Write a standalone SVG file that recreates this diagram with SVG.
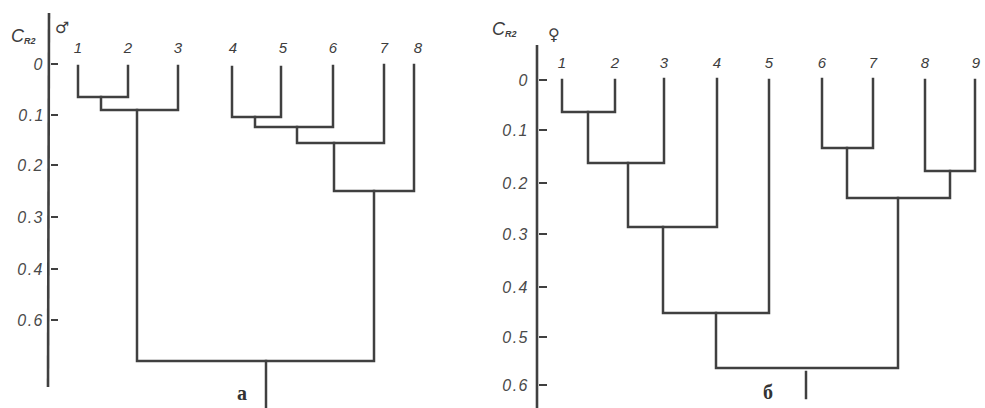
<svg xmlns="http://www.w3.org/2000/svg" width="985" height="408" viewBox="0 0 985 408">
  <style>
    .ln { fill: none; stroke: #404040; stroke-width: 2.5; stroke-linecap: square; stroke-linejoin: miter; }
    .ax { fill: none; stroke: #404040; stroke-width: 2.6; }
    .tk { stroke: #404040; stroke-width: 2; }
    .num { font-family: "Liberation Sans", Arial, sans-serif; font-style: italic; font-size: 15px; fill: #3d3d3d; }
    .cr { font-family: "Liberation Sans", Arial, sans-serif; font-style: italic; font-size: 18px; fill: #3d3d3d; }
    .cr tspan { font-size: 9px; font-weight: bold; }
    .axl { font-family: "Liberation Sans", Arial, sans-serif; font-style: italic; font-size: 16px; letter-spacing: 1.5px; fill: #4a4a4a; text-anchor: end; }
    .leaf { text-anchor: middle; }
    .sym { font-family: "DejaVu Sans", sans-serif; font-size: 16px; font-weight: bold; fill: #3d3d3d; }
    .cap { font-family: "Liberation Serif", "Times New Roman", serif; font-weight: bold; font-size: 20px; fill: #333; text-anchor: middle; }
  </style>
  <rect width="985" height="408" fill="#ffffff"/>

  <!-- Panel a: males -->
  <g id="axis-a">
    <line class="ax" x1="49" y1="13" x2="48" y2="387"/>
    <text class="cr" x="11" y="42">C<tspan dy="2">R2</tspan></text>
    <text class="sym" x="55" y="33">♂</text>
    <line class="tk" x1="51" y1="64" x2="58" y2="64"/>
    <line class="tk" x1="51" y1="115" x2="58" y2="115"/>
    <line class="tk" x1="51" y1="165" x2="58" y2="165"/>
    <line class="tk" x1="51" y1="217" x2="58" y2="217"/>
    <line class="tk" x1="51" y1="269" x2="58" y2="269"/>
    <line class="tk" x1="51" y1="320" x2="58" y2="320"/>
    <text class="axl" x="44" y="70">0</text>
    <text class="axl" x="45" y="121">0.1</text>
    <text class="axl" x="44" y="171">0.2</text>
    <text class="axl" x="44" y="223">0.3</text>
    <text class="axl" x="44" y="275">0.4</text>
    <text class="axl" x="44" y="326">0.6</text>
  </g>
  <g id="leaves-a">
    <text class="num leaf" x="78" y="53">1</text>
    <text class="num leaf" x="128" y="53">2</text>
    <text class="num leaf" x="178" y="53">3</text>
    <text class="num leaf" x="233" y="53">4</text>
    <text class="num leaf" x="283" y="53">5</text>
    <text class="num leaf" x="333" y="53">6</text>
    <text class="num leaf" x="384" y="53">7</text>
    <text class="num leaf" x="418" y="53">8</text>
  </g>
  <g id="connectors-a">
    <path class="ln" d="M78 66 V97 H128 V66"/>
    <path class="ln" d="M101 97 V110 H178 V66"/>
    <path class="ln" d="M232 67 V117 H281 V67"/>
    <path class="ln" d="M255 117 V127 H333 V66"/>
    <path class="ln" d="M297 127 V143 H384 V65"/>
    <path class="ln" d="M334 143 V191 H414 V65"/>
    <path class="ln" d="M137 110 V361 H374 V191"/>
    <path class="ln" d="M266 361 V408"/>
  </g>
  <text id="label-a" class="cap" x="242" y="400">a</text>

  <!-- Panel b: females -->
  <g id="axis-b">
    <line class="ax" x1="537" y1="45" x2="537" y2="408"/>
    <text class="cr" x="492" y="35">C<tspan dy="2">R2</tspan></text>
    <text class="sym" x="548" y="40">♀</text>
    <line class="tk" x1="539" y1="80" x2="547" y2="80"/>
    <line class="tk" x1="539" y1="130" x2="547" y2="130"/>
    <line class="tk" x1="539" y1="183" x2="547" y2="183"/>
    <line class="tk" x1="539" y1="234" x2="547" y2="234"/>
    <line class="tk" x1="539" y1="287" x2="547" y2="287"/>
    <line class="tk" x1="539" y1="337" x2="547" y2="337"/>
    <line class="tk" x1="539" y1="385" x2="547" y2="385"/>
    <text class="axl" x="529" y="86">0</text>
    <text class="axl" x="529" y="136">0.1</text>
    <text class="axl" x="529" y="189">0.2</text>
    <text class="axl" x="529" y="240">0.3</text>
    <text class="axl" x="529" y="293">0.4</text>
    <text class="axl" x="529" y="343">0.5</text>
    <text class="axl" x="529" y="391">0.6</text>
  </g>
  <g id="leaves-b">
    <text class="num leaf" x="562" y="68">1</text>
    <text class="num leaf" x="615" y="68">2</text>
    <text class="num leaf" x="664" y="68">3</text>
    <text class="num leaf" x="717" y="68">4</text>
    <text class="num leaf" x="769" y="68">5</text>
    <text class="num leaf" x="822" y="68">6</text>
    <text class="num leaf" x="873" y="68">7</text>
    <text class="num leaf" x="925" y="68">8</text>
    <text class="num leaf" x="976" y="68">9</text>
  </g>
  <g id="connectors-b">
    <path class="ln" d="M562 80 V112 H615 V80"/>
    <path class="ln" d="M588 112 V163 H664 V79"/>
    <path class="ln" d="M628 163 V227 H717 V79"/>
    <path class="ln" d="M663 227 V313 H769 V80"/>
    <path class="ln" d="M822 79 V148 H873 V79"/>
    <path class="ln" d="M925 80 V171 H975 V80"/>
    <path class="ln" d="M847 148 V198 H950 V171"/>
    <path class="ln" d="M716 313 V368 H898 V198"/>
    <path class="ln" d="M806 372 V398"/>
  </g>
  <text id="label-b" class="cap" x="768" y="399">б</text>
</svg>
